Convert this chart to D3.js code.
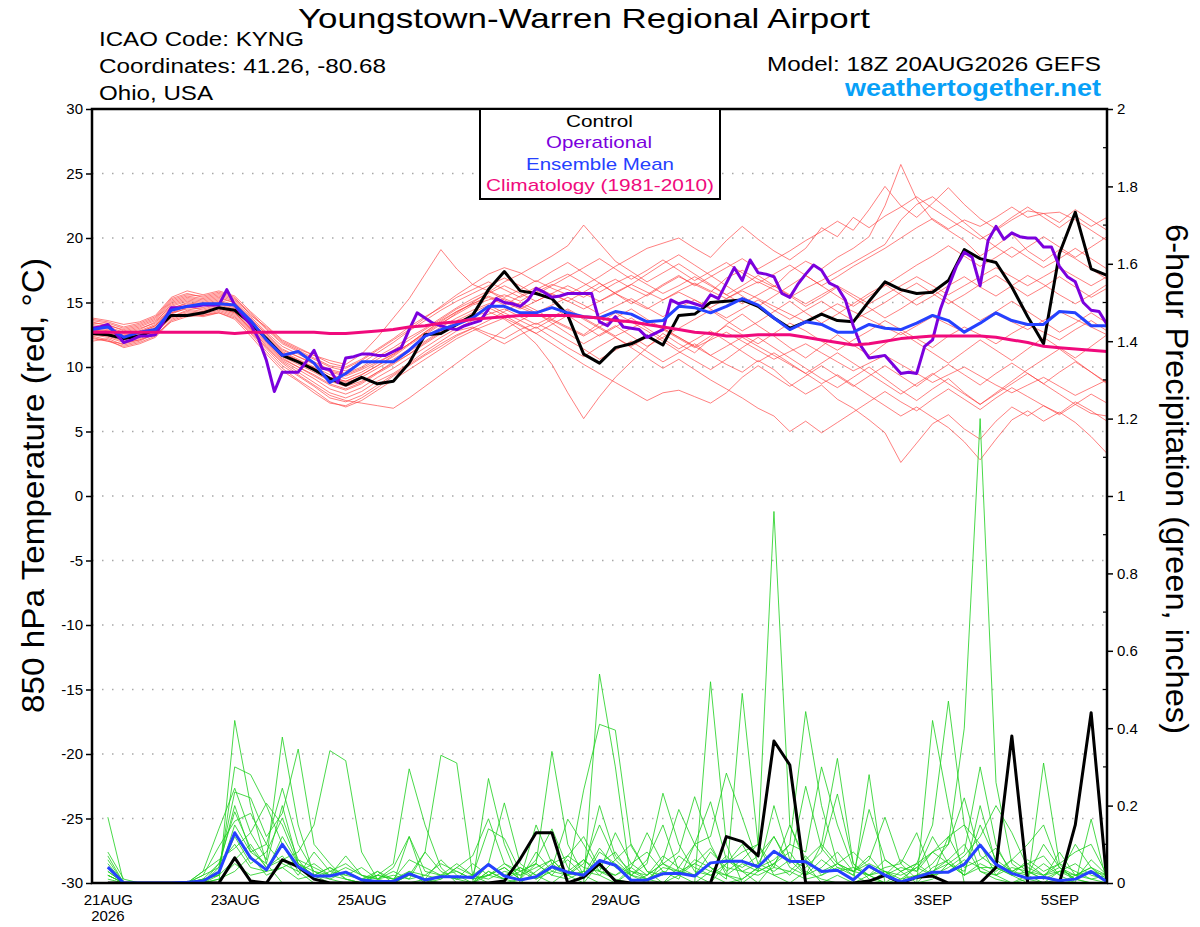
<!DOCTYPE html>
<html>
<head>
<meta charset="utf-8">
<script src="https://cdn.jsdelivr.net/npm/d3@7"></script>
<style>
  body { margin: 0; background: #fff; }
  svg { display: block; font-family: "Liberation Sans", Arial, Helvetica, sans-serif; }
</style>
</head>
<body>
<svg id="chart" width="1200" height="927"></svg>
<script>
// run start: 18Z 20 AUG 2026, 6-hourly ensemble, 3-hourly operational
const START = Date.UTC(2026, 7, 20, 18);
const HOUR = 3600e3;

const tickDates = [
  Date.UTC(2026, 7, 21), Date.UTC(2026, 7, 23), Date.UTC(2026, 7, 25), Date.UTC(2026, 7, 27),
  Date.UTC(2026, 7, 29), Date.UTC(2026, 8, 1), Date.UTC(2026, 8, 3), Date.UTC(2026, 8, 5)
];
const tickLabels = ["21AUG", "23AUG", "25AUG", "27AUG", "29AUG", "1SEP", "3SEP", "5SEP"];
const tempTicks = [-30, -25, -20, -15, -10, -5, 0, 5, 10, 15, 20, 25, 30];
const precipTicks = [0, 0.2, 0.4, 0.6, 0.8, 1, 1.2, 1.4, 1.6, 1.8, 2];
const precipTickLabels = ["0", "0.2", "0.4", "0.6", "0.8", "1", "1.2", "1.4", "1.6", "1.8", "2"];
const precipMinorTicks = [0.1, 0.3, 0.5, 0.7, 0.9, 1.1, 1.3, 1.5, 1.7, 1.9];

// 850 hPa temperature, 6-hourly from 18Z 20AUG (65 values)
const controlTemp = [
  12.6, 12.5, 12.2, 12.4, 12.9, 14.0, 14.0, 14.2, 14.6, 14.4,
  13.4, 12.2, 10.9, 10.4, 9.8, 9.1, 8.6, 9.2, 8.7, 8.9,
  10.3, 12.5, 12.6, 13.3, 14.0, 16.0, 17.4, 15.9, 15.7, 15.3,
  14.0, 11.0, 10.3, 11.5, 11.8, 12.4, 11.7, 14.0, 14.1, 15.0,
  15.1, 15.2, 14.7, 13.8, 13.0, 13.5, 14.1, 13.6, 13.5, 15.1,
  16.6, 16.0, 15.7, 15.8, 16.7, 19.1, 18.4, 18.1, 16.2, 13.9,
  11.8, 18.8, 22.0, 17.6, 17.1
];
const meanTemp = [
  12.9, 13.1, 12.3, 12.7, 12.9, 14.4, 14.7, 14.9, 14.9, 14.8,
  13.6, 12.1, 10.9, 11.2, 10.3, 8.8, 9.5, 10.4, 10.4, 10.4,
  11.3, 12.4, 12.9, 13.3, 13.8, 14.7, 14.7, 14.2, 14.2, 14.6,
  14.2, 13.9, 13.8, 14.3, 14.1, 13.5, 13.6, 14.7, 14.6, 14.2,
  14.7, 15.3, 14.8, 13.8, 12.9, 13.5, 13.3, 12.7, 12.7, 13.3,
  13.0, 12.9, 13.4, 14.0, 13.6, 12.7, 13.4, 14.2, 13.6, 13.3,
  13.3, 14.3, 14.2, 13.2, 13.2
];
const climoTemp = [
  12.7, 12.7, 12.7, 12.7, 12.7, 12.7, 12.7, 12.7, 12.7, 12.6,
  12.7, 12.7, 12.7, 12.7, 12.7, 12.6, 12.6, 12.7, 12.8, 12.9,
  13.1, 13.2, 13.4, 13.5, 13.7, 13.8, 13.9, 14.0, 14.0, 14.0,
  14.0, 13.9, 13.8, 13.6, 13.5, 13.3, 13.1, 12.9, 12.7, 12.6,
  12.4, 12.4, 12.5, 12.5, 12.5, 12.3, 12.1, 11.9, 11.7, 11.8,
  12.0, 12.2, 12.3, 12.4, 12.4, 12.4, 12.4, 12.3, 12.1, 11.9,
  11.6, 11.5, 11.4, 11.3, 11.2
];
// operational, 3-hourly (129 values)
const operationalTemp = [
  13.0, 13.1, 13.3, 12.6, 11.9, 12.1, 12.4, 12.4, 12.5, 13.5,
  14.6, 14.6, 14.7, 14.7, 14.8, 14.8, 14.8, 16.0, 14.8, 14.0,
  13.3, 12.2, 10.5, 8.1, 9.6, 9.6, 9.6, 10.4, 11.3, 9.9,
  9.8, 8.8, 10.7, 10.8, 11.0, 11.0, 10.9, 10.9, 11.2, 11.5,
  12.9, 14.2, 13.8, 13.4, 13.2, 13.0, 12.9, 13.2, 13.4, 13.6,
  14.5, 15.3, 15.0, 14.9, 14.7, 15.2, 16.1, 15.8, 15.4, 15.5,
  15.7, 15.7, 15.7, 15.7, 13.5, 13.2, 13.9, 13.1, 13.0, 12.9,
  12.3, 12.6, 12.9, 15.2, 14.9, 15.1, 14.9, 14.7, 15.6, 15.3,
  16.5, 17.7, 16.7, 18.3, 17.3, 17.2, 17.0, 15.7, 15.4, 16.4,
  17.2, 17.9, 17.5, 16.5, 16.2, 15.2, 13.2, 11.6, 10.7, 10.8,
  10.9, 10.2, 9.5, 9.6, 9.5, 11.6, 12.1, 14.5, 16.2, 17.8,
  18.9, 18.5, 16.3, 19.8, 20.9, 19.9, 20.4, 20.1, 20.0, 20.0,
  19.3, 19.3, 17.8, 17.0, 16.6, 15.0, 14.4, 14.3, 13.3
];
// ensemble members, 6-hourly (65 values each)
const memberTemps = [
  [13.2, 13.0, 12.6, 12.9, 13.5, 14.8, 15.2, 15.0, 15.3, 15.0, 13.8, 12.5, 11.3, 10.8, 10.2, 9.6, 9.3, 9.8, 10.4, 11.0,
   11.8, 12.6, 13.4, 14.1, 14.8, 15.2, 15.6, 15.1, 15.8, 16.4, 16.0, 15.4, 16.2, 16.8, 16.1, 15.5, 16.3, 17.0, 16.4, 15.8,
   16.9, 17.5, 16.8, 16.2, 17.4, 18.2, 17.6, 18.5, 19.2, 20.1, 22.5, 25.7, 23.0, 21.4, 20.6, 19.8, 18.6, 19.4, 20.3, 19.0,
   18.2, 19.1, 18.4, 17.6, 16.8],
  [12.4, 12.1, 11.5, 11.8, 12.3, 13.6, 14.0, 14.3, 14.6, 14.2, 13.0, 11.6, 10.4, 9.6, 8.8, 8.0, 7.6, 8.1, 8.9, 9.5,
   10.3, 11.2, 12.0, 12.8, 13.1, 12.6, 12.2, 12.9, 13.4, 12.8, 12.1, 11.4, 10.6, 11.3, 12.0, 11.2, 10.4, 11.1, 11.8, 10.9,
   10.2, 9.6, 10.5, 9.8, 8.7, 7.9, 8.6, 7.5, 6.8, 5.9, 4.9, 2.6, 4.1, 5.6, 6.3, 5.2, 4.4, 5.8, 6.9, 6.2,
   7.0, 6.4, 7.3, 6.6, 5.8],
  [13.6, 13.4, 13.0, 13.3, 13.8, 15.2, 15.6, 15.5, 15.8, 15.4, 14.0, 13.1, 12.0, 11.4, 10.9, 10.5, 10.2, 11.0, 12.3, 13.8,
   15.3, 17.2, 19.1, 17.6, 16.4, 15.9, 15.2, 14.6, 14.1, 13.6, 13.0, 12.4, 13.1, 13.8, 14.5, 13.7, 13.0, 12.3, 11.6, 12.4,
   13.2, 12.5, 11.8, 12.6, 13.4, 12.8, 12.0, 11.3, 12.1, 12.8, 13.6, 12.9, 12.2, 11.5, 12.4, 13.1, 12.5, 11.8, 12.6, 13.3,
   12.7, 12.1, 12.9, 13.6, 12.8],
  [12.0, 12.2, 11.7, 12.0, 12.6, 13.9, 14.3, 14.1, 14.4, 14.0, 12.8, 11.5, 10.3, 9.4, 8.6, 7.8, 7.4, 7.2, 7.0, 6.8,
   7.6, 8.5, 9.4, 10.3, 11.2, 12.0, 12.9, 13.6, 14.2, 13.4, 12.6, 11.8, 12.5, 13.2, 12.4, 11.6, 12.3, 13.0, 13.7, 14.4,
   13.6, 12.8, 13.5, 14.3, 15.1, 14.2, 13.4, 14.1, 14.9, 15.7, 16.4, 15.6, 14.8, 15.5, 16.3, 17.0, 16.2, 15.5, 16.3, 17.1,
   16.4, 15.6, 14.9, 15.6, 16.4],
  [13.0, 12.8, 12.5, 12.7, 13.2, 14.5, 15.0, 14.8, 15.0, 14.7, 13.5, 12.3, 11.1, 10.5, 9.9, 9.2, 8.9, 9.4, 10.1, 10.8,
   11.7, 12.5, 13.3, 14.2, 15.0, 15.8, 16.6, 17.2, 17.9, 18.6, 19.4, 21.0, 19.6, 18.2, 17.4, 16.6, 17.3, 18.0, 17.2, 16.4,
   15.6, 16.3, 17.1, 16.3, 15.5, 14.7, 15.4, 16.2, 15.4, 14.6, 13.8, 14.5, 15.3, 16.0, 15.2, 14.4, 13.6, 14.3, 15.1, 14.3,
   13.5, 12.7, 13.4, 14.2, 13.4],
  [12.8, 12.6, 12.1, 12.4, 12.9, 14.1, 14.6, 14.5, 14.8, 14.5, 13.3, 12.0, 10.8, 10.2, 9.6, 8.9, 8.5, 8.9, 9.6, 10.3,
   11.0, 11.8, 12.6, 13.3, 13.9, 14.3, 13.7, 12.9, 11.8, 10.2, 8.0, 6.0, 7.7, 9.2, 10.4, 11.5, 12.6, 11.8, 11.1, 12.2,
   13.3, 14.1, 13.2, 12.4, 11.5, 10.7, 11.6, 12.5, 11.7, 10.9, 11.8, 12.7, 11.9, 11.1, 10.3, 11.2, 12.1, 11.3, 10.5, 11.4,
   12.3, 11.5, 10.7, 11.6, 12.5],
  [13.4, 13.3, 12.8, 13.1, 13.6, 15.0, 15.4, 15.2, 15.5, 15.1, 13.9, 12.7, 11.6, 11.0, 10.4, 9.8, 9.5, 10.0, 10.8, 11.5,
   12.3, 13.0, 13.8, 14.6, 15.3, 15.9, 15.4, 16.0, 16.7, 16.1, 15.6, 16.3, 17.0, 17.8, 18.5, 19.2, 19.6, 20.0, 19.2, 18.5,
   19.8, 20.9, 19.9, 19.0, 18.3, 19.2, 20.8, 20.1, 21.6, 20.8, 21.7, 22.4, 23.2, 22.3, 21.5, 20.7, 19.9, 20.6, 21.4, 22.1,
   21.9, 21.2, 22.2, 21.4, 20.6],
  [12.6, 12.4, 12.0, 12.2, 12.7, 13.8, 14.2, 14.0, 14.3, 13.9, 12.7, 11.4, 10.1, 9.3, 8.5, 7.6, 7.3, 7.8, 8.6, 9.4,
   10.2, 11.0, 11.8, 12.5, 13.0, 12.4, 11.8, 12.5, 13.1, 12.3, 11.5, 10.8, 11.6, 12.3, 11.5, 10.7, 9.9, 10.6, 9.8, 9.0,
   8.3, 7.6, 6.8, 6.2, 5.0, 5.8, 4.9, 5.7, 6.5, 7.3, 8.1, 7.3, 6.6, 7.5, 8.3, 7.5, 6.7, 7.6, 8.4, 7.7,
   7.0, 6.3, 7.1, 7.9, 7.2],
  [13.1, 12.9, 12.4, 12.8, 13.3, 14.7, 15.1, 14.9, 15.2, 14.8, 13.6, 12.4, 11.2, 10.6, 10.0, 9.4, 9.1, 9.6, 10.3, 11.0,
   11.8, 12.7, 13.5, 14.3, 14.9, 15.4, 14.8, 15.5, 16.2, 15.6, 15.1, 15.8, 16.5, 15.7, 14.9, 15.6, 16.4, 17.1, 16.3, 17.0,
   17.7, 18.4, 17.6, 18.3, 19.0, 19.8, 20.5, 21.3, 20.6, 22.2, 24.0, 22.5, 21.6, 22.7, 23.9, 22.6, 21.5, 20.7, 21.6, 22.4,
   21.6, 20.8, 21.7, 20.9, 21.6],
  [12.3, 12.0, 11.6, 11.9, 12.4, 13.7, 14.1, 13.9, 14.2, 13.8, 12.6, 11.2, 9.9, 9.0, 8.2, 7.3, 6.9, 7.4, 8.2, 9.0,
   9.8, 10.6, 11.4, 12.2, 12.8, 13.3, 13.8, 13.2, 12.6, 13.3, 14.0, 13.2, 12.4, 13.1, 13.8, 13.0, 12.2, 11.4, 12.1, 12.8,
   12.0, 11.2, 10.4, 11.1, 10.3, 9.5, 8.7, 9.4, 8.6, 7.8, 7.0, 6.2, 6.9, 6.1, 5.3, 4.2, 2.8, 4.4, 5.9, 6.6,
   5.8, 6.5, 5.7, 4.6, 3.3],
  [12.9, 12.7, 12.3, 12.6, 13.1, 14.3, 14.8, 14.6, 14.9, 14.6, 13.4, 12.2, 11.0, 10.4, 9.8, 9.1, 8.8, 9.2, 9.9, 10.6,
   11.4, 12.3, 13.1, 13.8, 14.4, 14.9, 15.3, 14.8, 14.2, 14.8, 15.4, 14.8, 14.1, 14.7, 15.3, 14.6, 13.9, 14.6, 15.2, 14.5,
   13.8, 14.5, 15.2, 14.4, 13.7, 14.4, 15.1, 14.3, 13.6, 14.3, 15.0, 15.8, 16.5, 15.7, 14.9, 15.6, 16.4, 17.1, 16.3, 15.5,
   16.2, 17.0, 16.2, 15.4, 16.1],
  [13.5, 13.2, 12.9, 13.2, 13.7, 15.1, 15.5, 15.3, 15.6, 15.2, 14.1, 12.9, 11.8, 11.2, 10.6, 10.0, 9.7, 10.3, 11.1, 11.9,
   12.8, 13.6, 14.4, 15.1, 15.7, 16.3, 16.9, 16.3, 15.6, 16.3, 17.0, 17.7, 18.4, 17.6, 16.8, 17.5, 18.3, 17.5, 16.7, 17.4,
   18.1, 17.3, 16.5, 17.2, 17.9, 17.1, 16.3, 17.0, 17.8, 18.5, 19.2, 20.0, 20.8, 21.5, 20.7, 21.4, 20.9, 21.6, 22.4, 21.6,
   21.9, 22.0, 21.4, 20.6, 19.8],
  [12.7, 12.5, 12.2, 12.5, 13.0, 14.2, 14.7, 14.4, 14.7, 14.3, 13.1, 11.9, 10.7, 10.0, 9.3, 8.6, 8.2, 8.7, 9.5, 10.2,
   11.0, 11.9, 12.7, 13.5, 14.0, 14.6, 14.0, 13.3, 12.6, 11.8, 11.0, 10.2, 9.5, 8.8, 8.1, 7.4, 8.0, 8.2, 7.7, 7.2,
   8.0, 9.2, 10.1, 9.3, 8.5, 9.3, 10.1, 9.3, 8.5, 9.3, 10.1, 9.3, 8.5, 9.4, 10.2, 9.4, 8.6, 9.5, 10.3, 9.5,
   8.7, 9.6, 10.4, 9.6, 8.8],
  [13.3, 13.1, 12.7, 13.0, 13.4, 14.9, 15.3, 15.1, 15.4, 15.0, 13.7, 12.6, 11.4, 10.8, 10.3, 9.7, 9.4, 9.9, 10.6, 11.3,
   12.1, 12.9, 13.7, 14.5, 15.1, 15.7, 16.3, 15.7, 15.1, 15.7, 16.3, 15.7, 15.1, 15.8, 16.4, 15.8, 15.2, 15.9, 16.5, 15.9,
   15.3, 16.0, 16.6, 16.0, 15.4, 16.1, 16.7, 17.4, 18.1, 18.8, 19.5, 21.4, 22.6, 23.2, 22.2, 21.2, 20.2, 19.3, 18.5, 19.3,
   20.1, 19.3, 18.5, 19.3, 20.1],
  [12.5, 12.3, 11.9, 12.1, 12.6, 13.9, 14.4, 14.2, 14.5, 14.1, 12.9, 11.7, 10.5, 9.8, 9.1, 8.3, 7.9, 8.4, 9.2, 9.9,
   10.7, 11.5, 12.3, 13.0, 13.6, 14.1, 14.5, 13.9, 13.3, 13.9, 14.5, 13.8, 13.1, 12.4, 13.0, 13.6, 12.9, 12.2, 11.5, 12.1,
   12.7, 12.0, 11.3, 10.6, 11.2, 11.8, 11.1, 10.4, 9.7, 10.3, 10.9, 10.2, 9.5, 8.8, 9.4, 10.0, 9.3, 8.6, 8.0, 8.6,
   9.2, 8.5, 7.8, 8.4, 9.0],
  [13.8, 13.6, 13.3, 13.5, 14.0, 15.4, 15.9, 15.6, 15.9, 15.5, 14.3, 13.2, 12.1, 11.5, 10.9, 10.3, 10.0, 10.6, 11.4, 12.2,
   13.1, 13.9, 14.6, 15.4, 16.0, 16.6, 16.0, 15.4, 16.0, 16.6, 17.2, 16.5, 15.8, 16.5, 17.1, 16.4, 15.7, 16.3, 17.0, 16.3,
   15.6, 14.9, 15.6, 16.3, 15.6, 14.9, 15.6, 16.3, 15.6, 14.9, 15.6, 16.3, 17.0, 16.3, 15.6, 16.3, 17.0, 17.7, 17.0, 16.3,
   17.0, 17.7, 17.0, 16.3, 17.0],
  [12.2, 12.0, 11.8, 12.1, 12.5, 13.5, 13.9, 14.0, 14.2, 13.7, 12.4, 11.0, 9.7, 8.9, 8.0, 7.2, 7.0, 7.6, 8.4, 9.3,
   10.1, 10.9, 11.6, 12.4, 13.0, 13.6, 14.3, 15.0, 14.4, 13.7, 13.1, 12.5, 13.4, 14.2, 13.5, 12.8, 12.0, 11.2, 10.5, 9.8,
   10.6, 11.5, 12.3, 11.5, 10.7, 9.9, 9.1, 8.4, 9.2, 10.0, 9.1, 8.2, 7.4, 8.3, 9.1, 8.0, 7.1, 8.0, 8.9, 9.8,
   10.6, 11.4, 10.5, 9.6, 8.7],
  [13.7, 13.5, 13.1, 13.4, 13.9, 15.3, 15.7, 15.4, 15.7, 15.3, 14.2, 13.0, 11.9, 11.3, 10.7, 10.1, 9.9, 10.5, 11.3, 12.1,
   12.9, 13.8, 14.7, 15.6, 16.4, 17.2, 17.7, 17.3, 16.6, 17.4, 18.1, 17.3, 16.5, 15.7, 16.4, 17.2, 18.0, 18.7, 17.9, 17.1,
   16.3, 15.5, 14.7, 15.5, 16.3, 17.1, 16.3, 15.5, 14.7, 15.5, 16.3, 17.1, 17.9, 18.6, 19.4, 18.6, 17.8, 18.5, 19.3, 18.5,
   17.7, 18.4, 19.2, 18.4, 17.6],
  [12.9, 12.6, 12.3, 12.5, 13.0, 14.2, 14.5, 14.3, 14.6, 14.2, 13.0, 11.8, 10.6, 10.0, 9.4, 8.7, 8.3, 8.8, 9.6, 10.4,
   11.2, 12.0, 12.8, 13.6, 14.2, 14.8, 14.2, 13.6, 13.0, 13.7, 14.4, 13.7, 13.0, 12.3, 11.6, 12.3, 13.0, 12.3, 11.6, 10.9,
   11.6, 12.3, 11.6, 10.9, 10.2, 9.5, 10.3, 11.1, 10.3, 9.5, 8.7, 7.9, 8.7, 9.5, 8.7, 7.9, 7.1, 7.9, 8.7, 9.5,
   8.7, 7.9, 7.1, 6.4, 6.2],
  [12.8, 12.8, 12.4, 12.7, 13.2, 14.6, 14.9, 14.8, 15.1, 14.7, 13.5, 12.3, 11.1, 10.5, 9.9, 9.2, 8.9, 9.4, 10.1, 10.9,
   11.8, 12.7, 13.6, 14.3, 14.9, 15.5, 15.0, 14.5, 15.1, 15.7, 15.1, 14.5, 15.1, 15.7, 15.1, 14.5, 15.2, 15.8, 15.2, 14.6,
   15.3, 15.9, 15.3, 14.7, 14.1, 13.5, 14.2, 14.9, 14.3, 13.7, 13.1, 12.5, 13.2, 13.9, 13.3, 12.7, 13.4, 14.1, 13.5, 12.9,
   13.6, 14.3, 13.7, 13.1, 12.5]
];

// 6-hour precipitation (inches), valid 00Z 21AUG onward (64 values)
const controlPrecip = [
  0, 0, 0, 0, 0, 0, 0, 0,
  0.065, 0.005, 0, 0.06, 0.042, 0.01, 0, 0,
  0, 0, 0, 0, 0, 0, 0, 0,
  0, 0.005, 0.062, 0.13, 0.13, 0, 0.015, 0.05,
  0.005, 0, 0, 0, 0, 0, 0, 0.12,
  0.107, 0.07, 0.367, 0.305, 0, 0, 0, 0,
  0.005, 0.02, 0, 0.015, 0.018, 0, 0, 0,
  0.04, 0.38, 0, 0, 0, 0.15, 0.44, 0
];
const meanPrecip = [
  0.041, 0, 0, 0, 0, 0.002, 0.005, 0.028,
  0.13, 0.065, 0.034, 0.1, 0.042, 0.018, 0.018, 0.028,
  0.008, 0.004, 0.004, 0.024, 0.008, 0.016, 0.016, 0.014,
  0.048, 0.018, 0.008, 0.016, 0.042, 0.028, 0.02, 0.058,
  0.046, 0.007, 0.008, 0.024, 0.025, 0.018, 0.052, 0.056,
  0.056, 0.042, 0.082, 0.056, 0.055, 0.03, 0.033, 0.008,
  0.044, 0.02, 0.003, 0.015, 0.028, 0.028, 0.048, 0.098,
  0.048, 0.025, 0.012, 0.015, 0.006, 0.01, 0.03, 0.003
];
const memberPrecip = [
  [0.17, 0, 0, 0, 0, 0, 0, 0, 0.42, 0.2, 0.05, 0, 0, 0, 0, 0, 0, 0, 0, 0.12, 0, 0, 0, 0,
   0.27, 0.1, 0, 0, 0, 0, 0, 0.54, 0.3, 0, 0, 0, 0, 0, 0.52, 0.1, 0, 0, 0, 0, 0, 0, 0, 0,
   0.28, 0, 0, 0, 0.42, 0.2, 0, 0, 0, 0, 0, 0.31, 0.05, 0, 0, 0],
  [0.08, 0.01, 0, 0, 0, 0, 0, 0.02, 0.3, 0.28, 0.2, 0.1, 0.03, 0, 0, 0, 0, 0, 0, 0.02, 0.08, 0.33, 0.31, 0.02,
   0, 0, 0.01, 0.05, 0.34, 0.1, 0.02, 0, 0, 0.03, 0.01, 0, 0.04, 0.02, 0, 0.05, 0.08, 0.1, 0.96, 0.15, 0.05, 0, 0.02, 0,
   0, 0.03, 0, 0, 0.01, 0.05, 0.08, 0.3, 0.1, 0.02, 0, 0, 0.03, 0.01, 0, 0],
  [0.07, 0, 0, 0, 0, 0, 0.03, 0.14, 0.245, 0.13, 0.06, 0.377, 0.15, 0.02, 0, 0, 0, 0, 0, 0, 0.01, 0, 0, 0,
   0.02, 0.04, 0.01, 0.15, 0.05, 0.02, 0.24, 0.41, 0.395, 0.095, 0.03, 0, 0.02, 0.06, 0.04, 0.01, 0.49, 0.1, 0.02, 0, 0.03, 0.01, 0, 0,
   0.02, 0, 0.01, 0.04, 0.08, 0.12, 0.15, 0.1, 0.02, 0, 0.01, 0, 0, 0.02, 0.04, 0],
  [0.06, 0, 0, 0, 0, 0, 0, 0.04, 0.235, 0.22, 0.12, 0.18, 0.346, 0.1, 0.05, 0.01, 0, 0, 0, 0, 0, 0.02, 0.01, 0,
   0, 0, 0, 0.03, 0.06, 0.02, 0, 0.05, 0.08, 0.02, 0.05, 0.232, 0.1, 0.03, 0.02, 0, 0.01, 0.04, 0.06, 0.1, 0.443, 0.2, 0.05, 0.02,
   0, 0.03, 0, 0.05, 0.15, 0.47, 0.15, 0.03, 0.01, 0, 0.02, 0.05, 0.02, 0, 0.165, 0],
  [0.04, 0, 0, 0, 0, 0, 0.01, 0.05, 0.184, 0.09, 0.04, 0.06, 0.08, 0.15, 0.342, 0.316, 0.08, 0.01, 0, 0, 0, 0, 0, 0,
   0.03, 0.01, 0, 0, 0.04, 0.165, 0.1, 0.03, 0.01, 0, 0.02, 0.05, 0.08, 0.223, 0.1, 0.02, 0, 0.03, 0.05, 0.02, 0.06, 0.1, 0.322, 0.05,
   0.01, 0, 0, 0.02, 0.05, 0.1, 0.4, 1.2, 0.26, 0.05, 0.02, 0, 0.01, 0, 0, 0],
  [0.03, 0, 0, 0, 0, 0, 0.02, 0.094, 0.16, 0.18, 0.1, 0.245, 0.1, 0.03, 0.01, 0, 0, 0.02, 0.05, 0.295, 0.15, 0.04, 0, 0,
   0.05, 0.207, 0.05, 0.02, 0, 0.03, 0.06, 0.02, 0, 0.04, 0.13, 0.05, 0.02, 0, 0.03, 0.07, 0.03, 0, 0.05, 0.1, 0.08, 0.3, 0.15, 0.04,
   0.02, 0, 0.03, 0, 0.04, 0.06, 0.02, 0.05, 0.03, 0.06, 0.1, 0.15, 0.04, 0.01, 0, 0],
  [0.02, 0, 0, 0, 0, 0, 0, 0.03, 0.12, 0.05, 0.08, 0.168, 0.06, 0.04, 0.02, 0.07, 0.02, 0, 0, 0.03, 0, 0.01, 0.04, 0.07,
   0.166, 0.05, 0.02, 0.06, 0.14, 0.04, 0.01, 0.08, 0.05, 0.02, 0, 0.06, 0.19, 0.1, 0.12, 0.284, 0.17, 0.05, 0.03, 0.06, 0.02, 0.04, 0.08, 0.03,
   0.06, 0.17, 0.05, 0.13, 0.02, 0.04, 0.07, 0.12, 0.2, 0.13, 0.04, 0.02, 0.05, 0.03, 0.01, 0],
  [0.05, 0, 0, 0, 0, 0, 0.03, 0.06, 0.09, 0.13, 0.206, 0.15, 0.05, 0.02, 0.04, 0.01, 0, 0.03, 0.01, 0.06, 0.04, 0.02, 0.05, 0.02,
   0.14, 0.115, 0.03, 0.05, 0.02, 0.07, 0.04, 0.03, 0.13, 0.05, 0.02, 0.07, 0.04, 0.1, 0.21, 0.06, 0.04, 0.07, 0.12, 0.05, 0.25, 0.09, 0.04, 0.02,
   0.19, 0.06, 0.03, 0.05, 0.08, 0.1, 0.22, 0.07, 0.04, 0.02, 0.06, 0.03, 0.05, 0.08, 0.1, 0.02],
  [0.02, 0, 0, 0, 0, 0, 0.01, 0.02, 0.06, 0.1, 0.04, 0.07, 0.02, 0.08, 0.03, 0.05, 0.02, 0.01, 0.04, 0.12, 0.03, 0.02, 0.01, 0.05,
   0.02, 0.04, 0.01, 0.08, 0.03, 0.06, 0.02, 0.09, 0.04, 0.02, 0.06, 0.15, 0.03, 0.05, 0.09, 0.03, 0.06, 0.1, 0.04, 0.15, 0.06, 0.03, 0.05, 0.08,
   0.04, 0.02, 0.06, 0.03, 0.12, 0.05, 0.03, 0.15, 0.06, 0.03, 0.05, 0.07, 0.02, 0.1, 0.04, 0.01],
  [0, 0, 0, 0, 0, 0, 0, 0.05, 0.1, 0.04, 0.03, 0.12, 0.05, 0.02, 0.01, 0.03, 0.01, 0.03, 0, 0.02, 0.01, 0.06, 0.02, 0,
   0.03, 0.01, 0.04, 0.02, 0.05, 0.07, 0.12, 0.04, 0.02, 0.05, 0.08, 0.03, 0.01, 0.1, 0.04, 0.02, 0.05, 0.03, 0.2, 0.06, 0.04, 0.08, 0.23, 0.05,
   0.02, 0.04, 0.05, 0.01, 0.03, 0.06, 0.1, 0.03, 0.02, 0.06, 0.03, 0.01, 0.08, 0.02, 0.04, 0.02],
  [0.01, 0, 0, 0, 0, 0, 0, 0.01, 0.03, 0.07, 0.02, 0.04, 0.06, 0.01, 0.03, 0.02, 0.04, 0.01, 0.02, 0.01, 0.08, 0.03, 0.01, 0.02,
   0.05, 0.02, 0.04, 0.01, 0.03, 0.02, 0.05, 0.15, 0.06, 0.1, 0.03, 0.02, 0.07, 0.04, 0.02, 0.05, 0.1, 0.03, 0.05, 0.08, 0.02, 0.06, 0.03, 0.04,
   0.02, 0.06, 0.03, 0.05, 0.02, 0.12, 0.04, 0.06, 0.09, 0.03, 0.05, 0.02, 0.04, 0.01, 0.06, 0.02],
  [0.03, 0, 0, 0, 0, 0, 0.02, 0.04, 0.2, 0.08, 0.1, 0.05, 0.03, 0.05, 0.02, 0.01, 0, 0.02, 0.01, 0.03, 0.02, 0.01, 0.04, 0.02,
   0.01, 0.03, 0.02, 0.04, 0.06, 0.02, 0.03, 0.2, 0.07, 0.03, 0.02, 0.05, 0.03, 0.02, 0.08, 0.04, 0.03, 0.05, 0.12, 0.04, 0.02, 0.1, 0.05, 0.03,
   0.07, 0.02, 0.04, 0.03, 0.08, 0.05, 0.02, 0.2, 0.05, 0.03, 0.02, 0.1, 0.04, 0.02, 0.03, 0.02],
  [0, 0, 0, 0, 0, 0, 0.01, 0.02, 0.15, 0.08, 0.05, 0.2, 0.05, 0.03, 0.02, 0.04, 0.02, 0.01, 0.03, 0.01, 0.02, 0.05, 0.03, 0.01,
   0.02, 0.05, 0.03, 0.01, 0.04, 0.02, 0.06, 0.03, 0.02, 0.04, 0.01, 0.04, 0.03, 0.02, 0.05, 0.06, 0.03, 0.02, 0.04, 0.03, 0.07, 0.02, 0.04, 0.03,
   0.05, 0.03, 0.02, 0.04, 0.02, 0.03, 0.06, 0.04, 0.02, 0.04, 0.03, 0.02, 0.03, 0.05, 0.02, 0.01],
  [0.02, 0, 0, 0, 0, 0, 0, 0.01, 0.05, 0.02, 0.03, 0.04, 0.01, 0.02, 0.04, 0.02, 0.01, 0.02, 0.01, 0.02, 0.01, 0.02, 0.03, 0.01,
   0.02, 0.01, 0.03, 0.05, 0.02, 0.01, 0.03, 0.02, 0.06, 0.02, 0.01, 0.03, 0.02, 0.05, 0.03, 0.02, 0.01, 0.04, 0.02, 0.03, 0.01, 0.02, 0.05, 0.03,
   0.02, 0.03, 0.01, 0.02, 0.03, 0.05, 0.02, 0.04, 0.04, 0.02, 0.03, 0.01, 0.03, 0.02, 0.01, 0.02]
];

const FONT = '"Liberation Sans", Arial, Helvetica, sans-serif';
const plot = { left: 92, right: 1107, top: 109, bottom: 883 };

const svg = d3.select("#chart");

const x = d3.scaleUtc()
  .domain([new Date(START), new Date(START + 384 * HOUR)])
  .range([plot.left, plot.right]);
const yT = d3.scaleLinear().domain([-30, 30]).range([plot.bottom, plot.top]);
const yP = d3.scaleLinear().domain([0, 2]).range([plot.bottom, plot.top]);

const times6 = d3.range(65).map((i) => new Date(START + i * 6 * HOUR));
const times3 = d3.range(129).map((j) => new Date(START + j * 3 * HOUR));
const timesP = d3.range(1, 65).map((i) => new Date(START + i * 6 * HOUR));

svg.append("defs").append("clipPath").attr("id", "plotclip")
  .append("rect")
  .attr("x", plot.left).attr("y", plot.top)
  .attr("width", plot.right - plot.left).attr("height", plot.bottom - plot.top);

// dotted temperature grid
svg.append("g")
  .selectAll("line")
  .data(tempTicks.filter((t) => t > -30 && t < 30))
  .join("line")
  .attr("x1", plot.left).attr("x2", plot.right)
  .attr("y1", (d) => yT(d)).attr("y2", (d) => yT(d))
  .attr("stroke", "#a8a8a8")
  .attr("stroke-width", 1.5)
  .attr("stroke-dasharray", "1.5,8.5");

const lines = svg.append("g").attr("clip-path", "url(#plotclip)");

const drawLine = (times, values, yScale, color, width, opacity) => {
  const gen = d3.line()
    .x((d, i) => x(times[i]))
    .y((d) => yScale(d));
  lines.append("path")
    .datum(values)
    .attr("d", gen)
    .attr("fill", "none")
    .attr("stroke", color)
    .attr("stroke-width", width)
    .attr("stroke-opacity", opacity)
    .attr("stroke-linejoin", "round");
};

memberTemps.forEach((m) => drawLine(times6, m, yT, "#ff3a3a", 0.9, 0.72));
memberPrecip.forEach((m) => drawLine(timesP, m, yP, "#1fd01f", 0.9, 0.9));

drawLine(times6, controlTemp, yT, "#000000", 3, 1);
drawLine(times3, operationalTemp, yT, "#7b00dd", 3, 1);
drawLine(times6, meanTemp, yT, "#2541ff", 3, 1);
drawLine(times6, climoTemp, yT, "#f00a7c", 3, 1);
drawLine(timesP, controlPrecip, yP, "#000000", 3, 1);
drawLine(timesP, meanPrecip, yP, "#2541ff", 3, 1);

// plot border
svg.append("rect")
  .attr("x", plot.left).attr("y", plot.top)
  .attr("width", plot.right - plot.left).attr("height", plot.bottom - plot.top)
  .attr("fill", "none").attr("stroke", "#000").attr("stroke-width", 2.5);

// left axis
const leftAxis = svg.append("g")
  .attr("transform", `translate(${plot.left},0)`)
  .call(d3.axisLeft(yT).tickValues(tempTicks).tickSize(6).tickPadding(3).tickFormat((d) => String(d)));
leftAxis.select(".domain").remove();
leftAxis.selectAll("line").attr("stroke-width", 1.5);
leftAxis.selectAll("text").attr("font-family", FONT).attr("font-size", 15).attr("fill", "#000");

// right axis
const rightAxis = svg.append("g")
  .attr("transform", `translate(${plot.right},0)`)
  .call(d3.axisRight(yP).tickValues(precipTicks).tickSize(6).tickPadding(4)
    .tickFormat((d, i) => precipTickLabels[i]));
rightAxis.select(".domain").remove();
rightAxis.selectAll("line").attr("stroke-width", 1.5);
rightAxis.selectAll("text").attr("font-family", FONT).attr("font-size", 15).attr("fill", "#000");
svg.append("g")
  .selectAll("line")
  .data(precipMinorTicks)
  .join("line")
  .attr("x1", plot.right - 4).attr("x2", plot.right)
  .attr("y1", (d) => yP(d)).attr("y2", (d) => yP(d))
  .attr("stroke", "#000").attr("stroke-width", 1.2);

// bottom axis labels
const bottomAxis = svg.append("g")
  .attr("transform", `translate(0,${plot.bottom})`)
  .call(d3.axisBottom(x).tickValues(tickDates.map((t) => new Date(t))).tickSize(0).tickPadding(11)
    .tickFormat((d, i) => tickLabels[i]));
bottomAxis.select(".domain").remove();
bottomAxis.selectAll("text").attr("font-family", FONT).attr("font-size", 15).attr("fill", "#000");
svg.append("text")
  .attr("x", x(new Date(tickDates[0]))).attr("y", 921)
  .attr("text-anchor", "middle")
  .attr("font-size", 15)
  .text("2026");

// header texts
const addText = (str, x0, y0, size, length, opts = {}) => {
  const t = svg.append("text")
    .attr("x", x0).attr("y", y0)
    .attr("font-size", size)
    .attr("fill", opts.color || "#000")
    .attr("font-weight", opts.weight || "normal")
    .attr("textLength", length)
    .attr("lengthAdjust", "spacingAndGlyphs")
    .text(str);
  if (opts.transform) t.attr("transform", opts.transform);
  return t;
};

addText("Youngstown-Warren Regional Airport", 298, 28, 28, 572);
addText("ICAO Code: KYNG", 99, 46, 20, 205);
addText("Coordinates: 41.26, -80.68", 99, 73, 20, 287);
addText("Ohio, USA", 99, 100, 20, 114);
addText("Model: 18Z 20AUG2026 GEFS", 767, 71, 20, 334);
addText("weathertogether.net", 845, 96, 24, 256, { color: "#08a0f7", weight: "bold" });

// axis titles
addText("850 hPa Temperature (red, °C)", 0, 0, 32, 455, { transform: "translate(44,713) rotate(-90)" });
addText("6-hour Precipitation (green, inches)", 0, 0, 32, 510, { transform: "translate(1166,224) rotate(90)" });

// legend
svg.append("rect")
  .attr("x", 480).attr("y", plot.top)
  .attr("width", 240).attr("height", 90)
  .attr("fill", "#fff").attr("stroke", "#000").attr("stroke-width", 2);
addText("Control", 566, 127, 17, 67);
addText("Operational", 546, 148, 17, 106, { color: "#7b00dd" });
addText("Ensemble Mean", 526, 170, 17, 148, { color: "#2541ff" });
addText("Climatology (1981-2010)", 486, 191, 17, 228, { color: "#f00a7c" });
</script>
</body>
</html>
